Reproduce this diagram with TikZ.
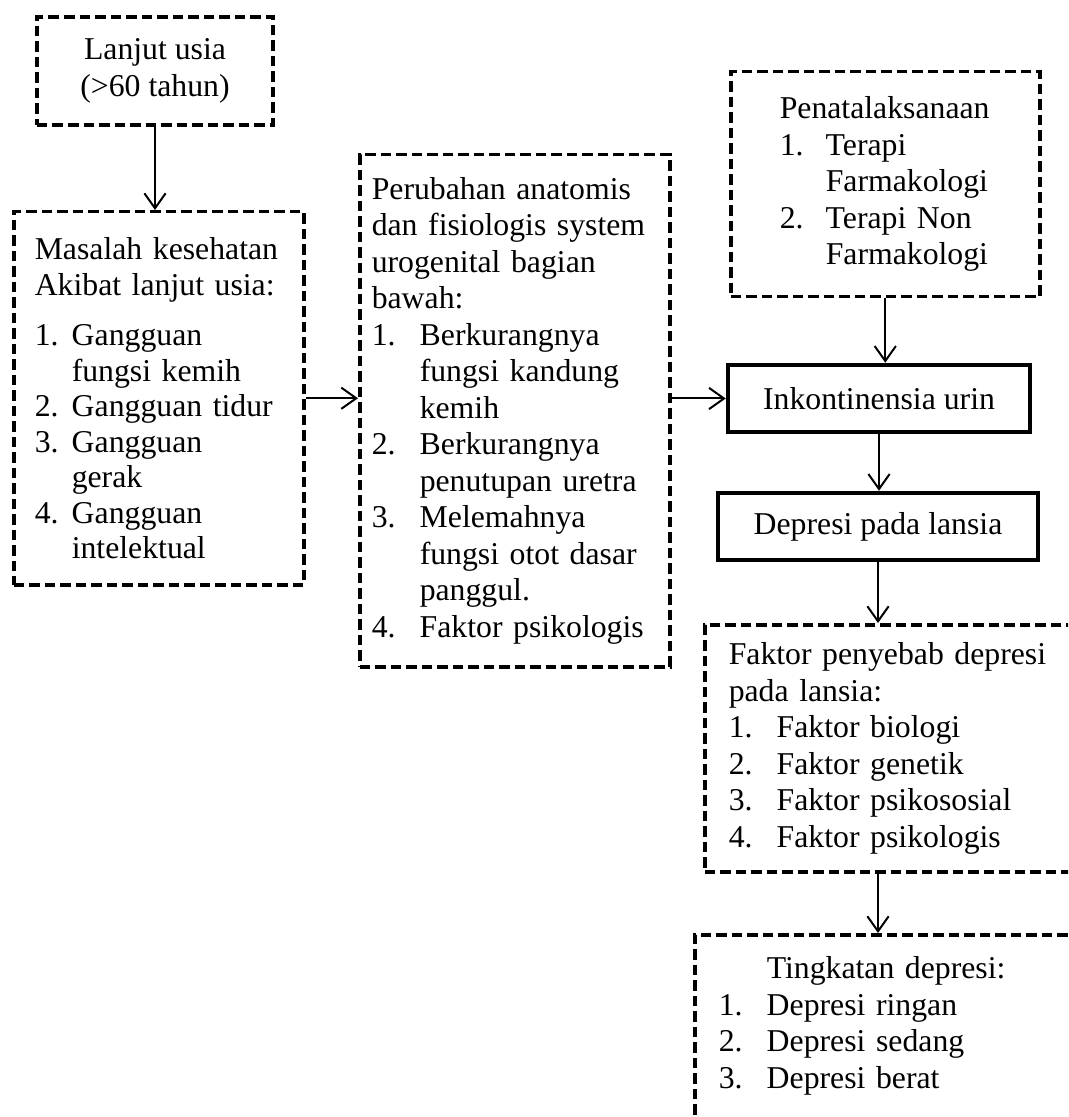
\documentclass[tikz,border=0pt]{standalone}
\usepackage{fontspec}
\setmainfont{Liberation Serif}
\usepackage{tikz}
\usetikzlibrary{arrows.meta,positioning}
\hyphenpenalty=10000
\newcommand{\itemno}[2][19.2pt]{\makebox[#1][l]{#2}}
\newcommand{\itemind}[1][19.2pt]{\hspace*{#1}}

\begin{document}
\begin{tikzpicture}[x=0.4pt, y=-0.4pt,
	>={Straight Barb[length=6pt,width=8.5pt]},
	dbox/.style={draw, line width=1.4pt, dash pattern=on 4.2pt off 2pt, align=left, inner ysep=0pt},
	sbox/.style={draw, line width=1.8pt, align=center},
	arr/.style={->, line width=0.8pt},
	font=\fontsize{12.7}{14.6}\selectfont]
	\path[use as bounding box, clip] (0,0) rectangle (1068,1117);

	% left column
	\node[dbox, align=center, minimum width=94.4pt, minimum height=43.2pt, font=\fontsize{12.7}{14.8}\selectfont] (lanjut) at (155,71) {Lanjut usia\\(>60 tahun)};
	\node[dbox, anchor=north west, text width=99.2pt, inner xsep=8.4pt, minimum height=149.2pt, font=\fontsize{12.7}{14.2}\selectfont] (masalah) at (12,210) {Masalah kesehatan\\Akibat lanjut usia:\\[6pt]
		\itemno[14.8pt]{1.}Gangguan\\ \itemind[14.8pt]fungsi kemih\\
		\itemno[14.8pt]{2.}Gangguan tidur\\
		\itemno[14.8pt]{3.}Gangguan\\ \itemind[14.8pt]gerak\\
		\itemno[14.8pt]{4.}Gangguan\\ \itemind[14.8pt]intelektual};

	% middle column
	\node[dbox, anchor=north west, text width=114.4pt, inner xsep=4.8pt, minimum height=204.8pt] (perubahan) at (358,153) {Perubahan anatomis\\dan fisiologis system\\urogenital bagian\\bawah:\\
		\itemno{1.}Berkurangnya\\ \itemind fungsi kandung\\ \itemind kemih\\
		\itemno{2.}Berkurangnya\\ \itemind penutupan uretra\\
		\itemno{3.}Melemahnya\\ \itemind fungsi otot dasar\\ \itemind panggul.\\
		\itemno{4.}Faktor psikologis};

	% right column
	\node[dbox, anchor=north west, text width=84.4pt, inner xsep=19.6pt, minimum height=90pt] (penata) at (729,70) {Penatalaksanaan\\
		\itemno[18.4pt]{1.}Terapi\\ \itemind[18.4pt]Farmakologi\\
		\itemno[18.4pt]{2.}Terapi Non\\ \itemind[18.4pt]Farmakologi};
	\node[sbox, minimum width=120.8pt, minimum height=26.8pt] (inkon) at (879,398.5) {Inkontinensia urin};
	\node[sbox, minimum width=128pt, minimum height=26.8pt] (depresi) at (878,526.5) {Depresi pada lansia};
	\node[dbox, anchor=north west, text width=136pt, inner xsep=9.6pt, minimum height=98.8pt] (faktor) at (703,623) {Faktor penyebab depresi\\pada lansia:\\
		\itemno{1.}Faktor biologi\\
		\itemno{2.}Faktor genetik\\
		\itemno{3.}Faktor psikososial\\
		\itemno{4.}Faktor psikologis};
	\node[dbox, anchor=north west, text width=136pt, inner xsep=9.6pt, minimum height=99.2pt] (tingkat) at (693,933) {\itemind Tingkatan depresi:\\
		\itemno{1.}Depresi ringan\\
		\itemno{2.}Depresi sedang\\
		\itemno{3.}Depresi berat\\ \mbox{}\\ \mbox{}};

	% connectors
	\draw[arr] (lanjut.south) -- (lanjut.south |- masalah.north);
	\draw[arr] (masalah.east) -- (masalah.east -| perubahan.west);
	\draw[arr] (inkon.west -| perubahan.east) -- (inkon.west);
	\draw[arr] (penata.south) -- (penata.south |- inkon.north);
	\draw[arr] (inkon.south) -- (inkon.south |- depresi.north);
	\draw[arr] (depresi.south) -- (depresi.south |- faktor.north);
	\draw[arr] (faktor.south -| depresi.south) -- (tingkat.north -| depresi.south);
\end{tikzpicture}
\end{document}
